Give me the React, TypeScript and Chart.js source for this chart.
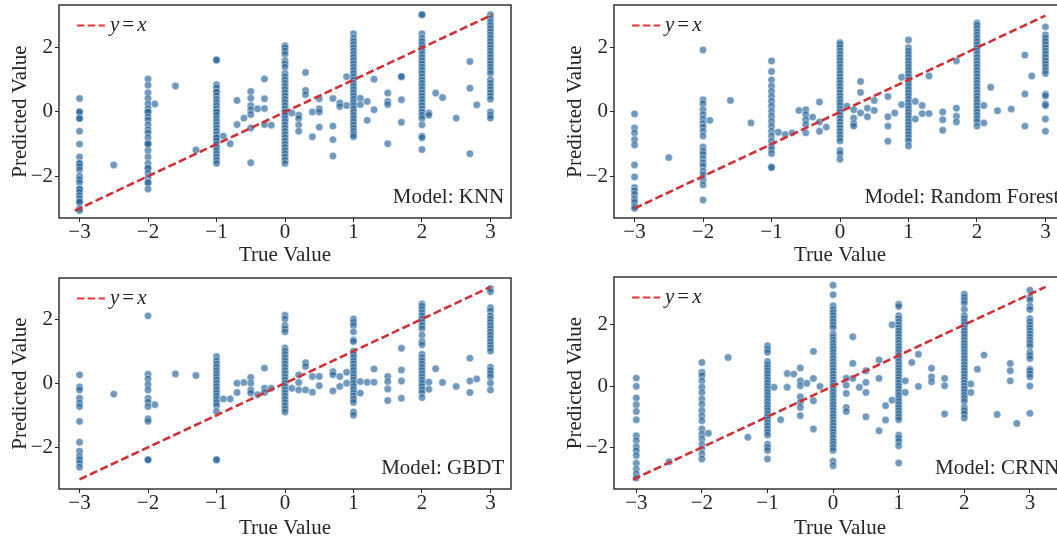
import React, { useEffect, useRef } from 'react';
import { Chart, registerables } from 'chart.js';

Chart.register(...registerables);

// ---------- data ----------
const X_TICKS = [-3, -2, -1, 0, 1, 2, 3];
const Y_TICKS = [-2, 0, 2];
const MODEL_NAMES = ['KNN', 'Random Forest', 'GBDT', 'CRNN'];
const X_TITLE = 'True Value';
const Y_TITLE = 'Predicted Value';

// each entry: [true value, predicted values observed at that true value]
const KNN_COLUMNS: [number, number[]][] = [
  [-3, [0.42, 0.0, 0.0, -0.2, -0.2, -0.6, -1.0, -1.4, -1.6, -1.6, -1.7, -1.8, -2.0, -2.1, -2.2, -2.4, -2.4, -2.5, -2.6, -2.7, -2.8, -2.8, -3.0, -3.07]],
  [-2.5, [-1.65]],
  [-2, [1.03, 0.83, 0.6, 0.42, 0.25, 0.1, 0.0, 0.0, -0.15, -0.25, -0.4, -0.55, -0.65, -0.8, -0.95, -1.0, -1.0, -1.2, -1.4, -1.6, -1.75, -1.75, -1.9, -2.05, -2.2, -2.2, -2.4]],
  [-1.9, [0.25]],
  [-1.6, [0.81]],
  [-1.3, [-1.18]],
  [-1, [1.62, 1.62, 0.85, 0.75, 0.62, 0.62, 0.5, 0.4, 0.3, 0.2, 0.1, 0.0, 0.0, -0.1, -0.2, -0.3, -0.4, -0.5, -0.6, -0.7, -0.8, -0.8, -0.9, -1.0, -1.1, -1.2, -1.3, -1.4, -1.5, -1.6]],
  [-0.9, [-0.75]],
  [-0.8, [-0.99]],
  [-0.7, [0.36, -0.39]],
  [-0.6, [-0.19]],
  [-0.5, [0.64, 0.43, 0.2, 0.07, -0.08, -0.5, -1.58]],
  [-0.4, [0.1]],
  [-0.3, [1.03, 0.41, 0.11, -0.39]],
  [-0.2, [-0.41]],
  [0, [2.06, 2.0, 1.9, 1.8, 1.6, 1.5, 1.4, 1.2, 1.1, 1.0, 0.9, 0.8, 0.7, 0.6, 0.5, 0.4, 0.3, 0.2, 0.1, 0.0, 0.0, -0.1, -0.2, -0.3, -0.4, -0.5, -0.6, -0.7, -0.8, -0.9, -1.0, -1.1, -1.2, -1.3, -1.4, -1.5, -1.6]],
  [0.1, [-0.03]],
  [0.2, [-0.1, -0.2, -0.4, -0.6]],
  [0.3, [1.23, 0.67, 0.54]],
  [0.4, [0.0, -0.77]],
  [0.5, [0.41, 0.1, 0.0, -0.47]],
  [0.7, [0.42, -0.44, -0.86, -1.37]],
  [0.8, [0.28, 0.17]],
  [0.9, [1.1, 0.2]],
  [1, [2.44, 2.3, 2.2, 2.1, 2.0, 1.9, 1.8, 1.7, 1.6, 1.5, 1.4, 1.3, 1.2, 1.1, 1.0, 0.9, 0.8, 0.7, 0.6, 0.5, 0.4, 0.3, 0.2, 0.1, 0.0, -0.1, -0.2, -0.3, -0.4, -0.5, -0.6, -0.7, -0.77]],
  [1.1, [0.43, 0.23]],
  [1.2, [0.33, -0.26]],
  [1.3, [1.02, 0.07]],
  [1.5, [0.59, 0.33, 0.23, -0.99]],
  [1.7, [1.1, 1.1, 0.38, -0.32]],
  [2, [3.03, 3.03, 2.44, 2.3, 2.2, 2.1, 2.0, 1.9, 1.8, 1.7, 1.6, 1.5, 1.4, 1.3, 1.2, 1.1, 1.0, 0.9, 0.8, 0.7, 0.6, 0.5, 0.4, 0.3, 0.2, 0.1, 0.0, -0.1, -0.2, -0.4, -0.75, -0.8, -1.17]],
  [2.1, [-0.03, -0.1]],
  [2.2, [0.59]],
  [2.3, [0.45]],
  [2.5, [-0.19]],
  [2.7, [1.57, 0.74, -1.3]],
  [2.8, [0.22]],
  [3, [3.03, 2.9, 2.8, 2.7, 2.6, 2.5, 2.4, 2.3, 2.2, 2.1, 2.0, 1.9, 1.8, 1.7, 1.6, 1.5, 1.4, 1.3, 1.2, 1.0, 0.9, 0.8, 0.7, 0.6, 0.5, 0.4, 0.0, -0.1, -0.19]],
];

const RF_COLUMNS: [number, number[]][] = [
  [-3, [-0.06, -0.5, -0.65, -0.86, -1.03, -1.65, -2.02, -2.35, -2.45, -2.56, -2.71, -2.81, -2.94, -3.0]],
  [-2.5, [-1.42]],
  [-2, [1.93, 0.38, 0.26, 0.07, -0.08, -0.22, -0.36, -0.47, -0.6, -0.75, -1.09, -1.22, -1.32, -1.45, -1.58, -1.68, -1.84, -1.96, -2.12, -2.27, -2.74]],
  [-1.9, [-0.26]],
  [-1.6, [0.36]],
  [-1.3, [-0.34]],
  [-1, [1.59, 1.26, 1.0, 0.81, 0.64, 0.48, 0.33, 0.18, 0.02, -0.13, -0.29, -0.44, -0.6, -0.75, -0.91, -1.06, -1.16, -1.29, -1.71, -1.73]],
  [-0.9, [-0.63]],
  [-0.8, [-0.7]],
  [-0.7, [-0.65]],
  [-0.6, [0.05]],
  [-0.5, [0.07, -0.08, -0.24, -0.39, -0.65]],
  [-0.4, [-0.16]],
  [-0.3, [0.31, -0.31, -0.6]],
  [-0.2, [-0.47]],
  [0, [2.16, 2.1, 2.0, 1.9, 1.8, 1.7, 1.6, 1.5, 1.4, 1.3, 1.2, 1.1, 1.0, 0.9, 0.8, 0.7, 0.6, 0.5, 0.4, 0.3, 0.2, 0.1, 0.0, -0.1, -0.2, -0.3, -0.4, -0.5, -0.6, -0.7, -0.8, -0.9, -1.2, -1.3, -1.47]],
  [0.1, [0.18]],
  [0.2, [0.07, -0.19, -0.36, -0.44]],
  [0.3, [0.95, 0.61, -0.03]],
  [0.4, [0.12, -0.15]],
  [0.5, [0.36, 0.05]],
  [0.7, [0.48, -0.15, -0.44, -0.91]],
  [0.8, [-0.03]],
  [0.9, [1.08, 0.23]],
  [1, [2.24, 2.0, 1.9, 1.8, 1.7, 1.6, 1.5, 1.4, 1.3, 1.2, 1.1, 1.0, 0.9, 0.8, 0.7, 0.6, 0.5, 0.4, 0.3, 0.2, 0.1, 0.0, -0.1, -0.2, -0.3, -0.4, -0.5, -0.6, -0.7, -0.8, -0.9, -1.06]],
  [1.1, [0.33, -0.22]],
  [1.2, [0.2, -0.05]],
  [1.3, [1.12, -0.05]],
  [1.5, [0.0, -0.24, -0.57]],
  [1.7, [1.59, 0.12, -0.13, -0.31]],
  [2, [2.77, 2.7, 2.6, 2.5, 2.4, 2.3, 2.2, 2.1, 2.0, 1.9, 1.8, 1.7, 1.6, 1.5, 1.4, 1.3, 1.2, 1.1, 1.0, 0.9, 0.8, 0.7, 0.6, 0.5, 0.4, 0.3, 0.2, 0.1, 0.0, -0.1, -0.2, -0.3, -0.44]],
  [2.1, [0.2, -0.34]],
  [2.2, [0.77]],
  [2.3, [0.04]],
  [2.5, [0.09]],
  [2.7, [1.77, 0.56, -0.44]],
  [2.8, [1.12]],
  [3, [2.65, 2.4, 2.3, 2.2, 2.1, 2.0, 1.9, 1.8, 1.7, 1.6, 1.5, 1.4, 1.3, 1.2, 0.55, 0.5, 0.25, 0.2, -0.22, -0.6]],
];

const GBDT_COLUMNS: [number, number[]][] = [
  [-3, [0.26, -0.12, -0.21, -0.47, -0.62, -0.73, -1.19, -1.84, -2.12, -2.28, -2.38, -2.49, -2.62]],
  [-2.5, [-0.34]],
  [-2, [2.1, 0.28, 0.13, -0.05, -0.21, -0.47, -0.59, -0.73, -1.11, -1.19, -2.39, -2.39]],
  [-1.9, [-0.67]],
  [-1.6, [0.29]],
  [-1.3, [0.24]],
  [-1, [0.83, 0.7, 0.6, 0.5, 0.4, 0.3, 0.2, 0.1, 0.0, -0.1, -0.2, -0.3, -0.4, -0.5, -0.6, -0.7, -0.88, -2.39, -2.39]],
  [-0.9, [-0.49]],
  [-0.8, [-0.49]],
  [-0.7, [0.0, -0.29]],
  [-0.6, [0.02]],
  [-0.5, [0.18, 0.0, -0.21, -0.31]],
  [-0.4, [-0.36]],
  [-0.3, [0.47, -0.16, -0.29]],
  [-0.2, [-0.16]],
  [0, [2.12, 2.0, 1.8, 1.7, 1.6, 1.1, 1.0, 0.9, 0.8, 0.7, 0.6, 0.5, 0.4, 0.3, 0.2, 0.1, 0.0, -0.1, -0.2, -0.3, -0.4, -0.5, -0.6, -0.7, -0.8, -0.9]],
  [0.1, [-0.16]],
  [0.2, [0.26, 0.02, -0.21]],
  [0.3, [0.64, 0.52, -0.21]],
  [0.4, [0.21, -0.28]],
  [0.5, [0.21, -0.08]],
  [0.7, [0.36, 0.26, -0.24]],
  [0.8, [0.21, -0.1]],
  [0.9, [0.34, 0.0]],
  [1, [2.0, 1.9, 1.8, 1.6, 1.35, 1.3, 1.0, 0.9, 0.8, 0.7, 0.6, 0.5, 0.4, 0.3, 0.2, 0.1, 0.0, -0.1, -0.2, -0.3, -0.4, -0.5, -0.6, -0.9, -1.0]],
  [1.1, [0.05, -0.31]],
  [1.2, [0.03]],
  [1.3, [0.44, 0.03]],
  [1.5, [0.21, 0.05, -0.18, -0.54]],
  [1.7, [1.09, 0.41, 0.07, -0.47]],
  [2, [2.47, 2.4, 2.3, 2.2, 2.1, 2.0, 1.9, 1.8, 1.7, 1.5, 1.3, 1.2, 0.9, 0.8, 0.7, 0.6, 0.5, 0.4, 0.3, 0.2, 0.1, 0.0, -0.1, -0.2, -0.3, -0.45]],
  [2.1, [0.03, -0.19]],
  [2.2, [0.45]],
  [2.3, [0.02]],
  [2.5, [-0.1]],
  [2.7, [0.78, 0.07, -0.29]],
  [2.8, [0.13]],
  [3, [2.95, 2.85, 2.35, 2.25, 2.1, 2.0, 1.9, 1.8, 1.7, 1.6, 1.5, 1.4, 1.3, 1.2, 1.1, 1.0, 0.5, 0.4, 0.3, 0.2, 0.0, -0.21]],
];

const CRNN_COLUMNS: [number, number[]][] = [
  [-3, [0.26, -0.01, -0.39, -0.61, -0.83, -1.1, -1.62, -1.78, -1.98, -2.11, -2.27, -2.52, -2.71, -2.87, -3.0]],
  [-2.5, [-2.47]],
  [-2, [0.77, 0.45, 0.34, 0.17, -0.04, -0.21, -0.42, -0.59, -0.8, -0.97, -1.13, -1.4, -1.57, -1.73, -1.91, -2.05, -2.22, -2.38]],
  [-1.9, [-1.54]],
  [-1.6, [0.93]],
  [-1.3, [-1.67]],
  [-1, [1.32, 1.2, 1.1, 0.8, 0.7, 0.6, 0.5, 0.4, 0.3, 0.2, 0.1, 0.0, -0.1, -0.2, -0.3, -0.4, -0.5, -0.6, -0.7, -0.8, -0.9, -1.0, -1.1, -1.2, -1.3, -1.4, -1.5, -1.6, -1.9, -2.0, -2.1, -2.38]],
  [-0.9, [-0.04]],
  [-0.8, [-1.1]],
  [-0.7, [0.41, -0.04]],
  [-0.6, [0.39]],
  [-0.5, [0.59, 0.17, 0.01, -0.35, -0.53, -0.7, -0.97]],
  [-0.4, [0.09]],
  [-0.3, [1.13, 0.25, -0.48, -1.4]],
  [-0.2, [-0.01]],
  [0, [3.29, 2.98, 2.62, 2.5, 2.4, 2.3, 2.2, 2.1, 2.0, 1.9, 1.7, 1.6, 1.5, 1.4, 1.3, 1.2, 1.1, 1.0, 0.9, 0.8, 0.7, 0.6, 0.5, 0.4, 0.3, 0.2, 0.1, 0.0, -0.1, -0.2, -0.3, -0.4, -0.5, -0.6, -0.7, -0.8, -0.9, -1.0, -1.1, -1.2, -1.3, -1.4, -1.5, -1.6, -1.7, -1.8, -1.9, -2.0, -2.1, -2.45, -2.6]],
  [0.2, [0.26, 0.03, -0.24, -0.7, -0.83]],
  [0.3, [1.61, 0.74, 0.25]],
  [0.4, [-0.04]],
  [0.5, [0.5, 0.12, -0.21, -1.0]],
  [0.7, [0.85, 0.25, -1.46]],
  [0.8, [-0.64, -1.11]],
  [0.9, [2.0, -0.46]],
  [1, [2.67, 2.6, 2.3, 2.2, 2.1, 2.0, 1.9, 1.8, 1.7, 1.6, 1.5, 1.4, 1.3, 1.2, 1.1, 1.0, 0.9, 0.8, 0.7, 0.6, 0.5, 0.4, 0.3, 0.2, 0.1, 0.0, -0.1, -0.2, -0.3, -0.4, -0.5, -0.6, -0.7, -0.8, -0.9, -1.0, -1.1, -1.6, -1.7, -1.8, -1.95, -2.51]],
  [1.1, [0.17, -0.21]],
  [1.2, [0.77]],
  [1.3, [1.04, -0.01]],
  [1.5, [0.58, 0.3, 0.14]],
  [1.7, [0.25, 0.01, -0.91]],
  [2, [3.0, 2.9, 2.8, 2.7, 2.5, 2.3, 2.2, 2.1, 2.0, 1.9, 1.8, 1.7, 1.6, 1.5, 1.4, 1.3, 1.2, 1.1, 1.0, 0.9, 0.8, 0.7, 0.6, 0.5, 0.4, 0.3, 0.2, 0.1, 0.0, -0.1, -0.2, -0.3, -0.4, -0.5, -0.7, -0.8, -0.9, -1.04]],
  [2.1, [0.07, -0.21]],
  [2.2, [0.55]],
  [2.3, [1.01]],
  [2.5, [-0.93]],
  [2.7, [0.74, 0.5, 0.17]],
  [2.8, [-1.22]],
  [3, [3.13, 2.9, 2.8, 2.6, 2.5, 2.2, 2.1, 2.0, 1.9, 1.8, 1.7, 1.6, 1.5, 1.4, 1.3, 1.1, 1.0, 0.9, 0.55, 0.5, 0.4, 0.3, 0.0, -0.89]],
];

// y = x reference line end points per model
const KNN_IDENTITY = [-3.07, 3.03];
const RF_IDENTITY = [-3.0, 3.0];
const GBDT_IDENTITY = [-3.0, 3.0];
const CRNN_IDENTITY = [-3.05, 3.24];

// axis limits per model
const KNN_XLIM = [-3.3, 3.3];
const KNN_YLIM = [-3.3, 3.33];
const RF_XLIM = [-3.3, 3.3];
const RF_YLIM = [-3.3, 3.33];
const GBDT_XLIM = [-3.3, 3.3];
const GBDT_YLIM = [-3.3, 3.28];
const CRNN_XLIM = [-3.34, 3.55];
const CRNN_YLIM = [-3.36, 3.56];

// ---------- style ----------
const FONT = "'Liberation Serif', 'Times New Roman', serif";
const FS = 21;
const TEXT = '#262626';
const POINT_FILL = 'rgba(31, 96, 150, 0.64)';
const POINT_EDGE = 'rgba(255, 255, 255, 0.8)';
const LINE_RED = '#cc3338';
const LEGEND_RED = '#e8353a';

type PanelSpec = {
  name: string;
  columns: [number, number[]][];
  identity: number[];
  xlim: number[];
  ylim: number[];
  canvas: [number, number, number, number]; // left, top, width, height
  area: [number, number, number, number]; // L, T, R, B (absolute)
  xTitleY: number;
  yTitleX: number;
};

const PANELS: PanelSpec[] = [
  { name: MODEL_NAMES[0], columns: KNN_COLUMNS, identity: KNN_IDENTITY, xlim: KNN_XLIM, ylim: KNN_YLIM,
    canvas: [0, 0, 530, 271], area: [59, 5, 511, 218], xTitleY: 255, yTitleX: 20 },
  { name: MODEL_NAMES[1], columns: RF_COLUMNS, identity: RF_IDENTITY, xlim: RF_XLIM, ylim: RF_YLIM,
    canvas: [530, 0, 550, 271], area: [614, 5, 1066, 218], xTitleY: 255, yTitleX: 575 },
  { name: MODEL_NAMES[2], columns: GBDT_COLUMNS, identity: GBDT_IDENTITY, xlim: GBDT_XLIM, ylim: GBDT_YLIM,
    canvas: [0, 271, 530, 271], area: [59, 278, 511, 489], xTitleY: 528, yTitleX: 20 },
  { name: MODEL_NAMES[3], columns: CRNN_COLUMNS, identity: CRNN_IDENTITY, xlim: CRNN_XLIM, ylim: CRNN_YLIM,
    canvas: [530, 271, 550, 271], area: [614, 277, 1066, 489], xTitleY: 528, yTitleX: 575 },
];

const fmt = (v: number | string) => String(v).replace('-', '\u2212');

const decorPlugin = {
  id: 'decor',
  afterDraw(chart: any, _args: any, opts: any) {
    const { ctx, chartArea: a } = chart;
    ctx.save();
    // frame
    ctx.strokeStyle = TEXT;
    ctx.lineWidth = 1.4;
    ctx.setLineDash([]);
    ctx.strokeRect(a.left, a.top, a.right - a.left, a.bottom - a.top);
    // legend
    ctx.strokeStyle = LEGEND_RED;
    ctx.lineWidth = 2;
    ctx.setLineDash([7.5, 3.3]);
    ctx.beginPath();
    ctx.moveTo(a.left + 18, a.top + 20.5);
    ctx.lineTo(a.left + 46, a.top + 20.5);
    ctx.stroke();
    ctx.setLineDash([]);
    ctx.fillStyle = TEXT;
    ctx.textAlign = 'left';
    ctx.textBaseline = 'alphabetic';
    const ty = a.top + 26;
    let tx = a.left + 51;
    ctx.font = `italic ${FS}px ${FONT}`;
    ctx.fillText('y', tx, ty);
    tx += ctx.measureText('y').width + 3;
    ctx.font = `${FS}px ${FONT}`;
    ctx.fillText('=', tx, ty);
    tx += ctx.measureText('=').width + 3;
    ctx.font = `italic ${FS}px ${FONT}`;
    ctx.fillText('x', tx, ty);
    // model annotation
    ctx.font = `${FS}px ${FONT}`;
    ctx.textAlign = 'right';
    ctx.fillText(`Model: ${opts.name}`, a.left + 0.985 * (a.right - a.left), a.bottom - 15);
    ctx.restore();
  },
};

function Panel({ spec }: { spec: PanelSpec }) {
  const ref = useRef<HTMLCanvasElement | null>(null);
  useEffect(() => {
    const canvas = ref.current;
    if (!canvas) return;
    const [cl, ct, cw, ch] = spec.canvas;
    const [L, T, R, B] = spec.area;
    const points = spec.columns.flatMap(([x, ys]) => ys.map((y) => ({ x, y })));
    const [lo, hi] = spec.identity;
    const tickFont = { family: FONT, size: FS, lineHeight: 1.0 };
    const titleFont = { family: FONT, size: FS, lineHeight: 1.2 };
    const half = (FS * 1.2) / 2;
    const chart = new Chart(canvas, {
      type: 'scatter',
      data: {
        datasets: [
          {
            type: 'line',
            data: [{ x: lo, y: lo }, { x: hi, y: hi }],
            borderColor: LINE_RED,
            borderWidth: 2.6,
            borderDash: [8, 3.5],
            pointRadius: 0,
            fill: false,
            order: 0,
          } as any,
          {
            type: 'scatter',
            data: points,
            backgroundColor: POINT_FILL,
            borderColor: POINT_EDGE,
            borderWidth: 0.5,
            pointRadius: 3.7,
            order: 1,
          },
        ],
      },
      options: {
        animation: false,
        responsive: false,
        maintainAspectRatio: false,
        devicePixelRatio: 1,
        events: [],
        layout: { padding: { left: 0, top: T - ct, right: cl + cw - R, bottom: 0 } },
        plugins: { legend: { display: false }, tooltip: { enabled: false }, decor: { name: spec.name } } as any,
        scales: {
          x: {
            type: 'linear',
            position: 'bottom',
            min: spec.xlim[0],
            max: spec.xlim[1],
            grid: { display: true, drawOnChartArea: false, drawTicks: true, tickLength: 4, color: TEXT, lineWidth: 1 },
            border: { display: false },
            ticks: { font: tickFont, color: TEXT, padding: 0, maxRotation: 0, callback: (v: any) => fmt(v) },
            title: {
              display: true, text: X_TITLE, font: titleFont, color: TEXT,
              padding: { top: 0, bottom: ct + ch - spec.xTitleY - half },
            },
            afterBuildTicks: (s: any) => { s.ticks = X_TICKS.map((value) => ({ value })); },
            afterFit: (s: any) => { s.height = ct + ch - B; s.paddingLeft = 0; s.paddingRight = 0; },
          },
          y: {
            type: 'linear',
            position: 'left',
            min: spec.ylim[0],
            max: spec.ylim[1],
            grid: { display: true, drawOnChartArea: false, drawTicks: true, tickLength: 4, color: TEXT, lineWidth: 1 },
            border: { display: false },
            ticks: { font: tickFont, color: TEXT, padding: 2, callback: (v: any) => fmt(v) },
            title: {
              display: true, text: Y_TITLE, font: titleFont, color: TEXT,
              padding: { top: spec.yTitleX - cl - half, bottom: 0 },
            },
            afterBuildTicks: (s: any) => { s.ticks = Y_TICKS.map((value) => ({ value })); },
            afterFit: (s: any) => { s.width = L - cl; s.paddingTop = 0; s.paddingBottom = 0; },
          },
        },
      } as any,
      plugins: [decorPlugin as any],
    });
    return () => chart.destroy();
  }, [spec]);
  const [cl, ct, cw, ch] = spec.canvas;
  return (
    <canvas
      ref={ref}
      width={cw}
      height={ch}
      style={{ position: 'absolute', left: cl, top: ct, width: cw, height: ch }}
    />
  );
}

export default function App() {
  return (
    <div style={{ position: 'fixed', left: 0, top: 0, width: 1057, height: 542, overflow: 'hidden', background: '#fff' }}>
      {PANELS.map((p) => (
        <Panel key={p.name} spec={p} />
      ))}
    </div>
  );
}
